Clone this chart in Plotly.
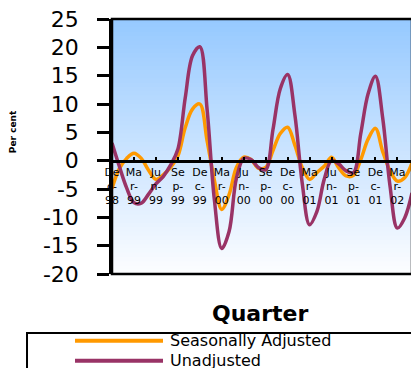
import plotly.graph_objects as go
import pandas as pd

# ---- data ----
months = list(pd.date_range("1998-12-01", periods=42, freq="MS").strftime("%b-%y"))
quarter_labels = ["Dec-98", "Mar-99", "Jun-99", "Sep-99", "Dec-99", "Mar-00", "Jun-00",
                  "Sep-00", "Dec-00", "Mar-01", "Jun-01", "Sep-01", "Dec-01", "Mar-02"]
seasonally_adjusted = [-4.9, -1.4, 0.4, 1.3, 0.4, -1.7, -3.3, -2.5, -1.2, 0.8,
                       5.8, 9.1, 10.0, 3.5, -3.5, -8.6, -6.0, -1.2, 0.6, 0.2,
                       -1.3, -1.2, 1.8, 4.8, 5.9, 2.7, -1.2, -3.3, -2.1, -1.0,
                       0.6, -1.3, -2.7, -2.6, 0.2, 3.8, 5.7, 1.6, -1.8, -3.6,
                       -3.0, -0.4]
unadjusted = [3.1, -1.0, -4.8, -7.4, -7.5, -5.9, -4.1, -2.8, -0.8, 2.0,
              11.0, 18.5, 20.1, 9.0, -7.0, -15.5, -12.5, -3.1, 0.4, 0.2,
              -1.2, -1.6, 5.5, 12.7, 15.2, 8.0, -4.0, -11.3, -9.0, -3.3,
              0.0, -0.6, -1.8, -2.1, 4.8, 11.8, 14.9, 7.5, -4.5, -11.9,
              -10.1, -5.7]
y_tick_values = [-20, -15, -10, -5, 0, 5, 10, 15, 20, 25]
y_tick_text = ["-20", "-15", "-10", "-5", "0", "5", "10", "15", "20", "25"]

ORANGE = "#FF9900"
PLUM = "#993366"
FONT = "DejaVu Sans"

def wrap(lbl):
    return lbl[:2] + "<br>" + lbl[2:4] + "<br>" + lbl[4:]

fig = go.Figure()
fig.add_trace(go.Scatter(x=months, y=seasonally_adjusted, mode="lines",
                         name="Seasonally Adjusted",
                         line=dict(color=ORANGE, width=3.5, shape="spline", smoothing=1.0)))
fig.add_trace(go.Scatter(x=months, y=unadjusted, mode="lines", name="Unadjusted",
                         line=dict(color=PLUM, width=3.5, shape="spline", smoothing=1.0)))

shapes = []
# gradient background of plot area
n = 60
top = (150, 201, 255)
bot = (252, 253, 255)
for i in range(n):
    f = i / (n - 1)
    c = tuple(round(top[k] + (bot[k] - top[k]) * f) for k in range(3))
    shapes.append(dict(type="rect", xref="paper", yref="paper", x0=0, x1=1,
                       y0=max(0, 1 - (i + 1) / n - 0.006), y1=1 - i / n, layer="below",
                       fillcolor="rgb(%d,%d,%d)" % c, line=dict(width=0)))
# plot frame
shapes.append(dict(type="rect", xref="paper", yref="paper", x0=0, x1=1, y0=0, y1=1,
                   line=dict(color="black", width=2.5), layer="above"))
# legend box
shapes.append(dict(type="rect", xref="paper", yref="paper", x0=-0.2833, x1=1.08,
                   y0=-0.45, y1=-0.2314, line=dict(color="black", width=2)))
shapes.append(dict(type="line", xref="paper", yref="paper", x0=-0.1233, x1=0.17,
                   y0=-0.2616, y1=-0.2616, line=dict(color=ORANGE, width=4)))
shapes.append(dict(type="line", xref="paper", yref="paper", x0=-0.1233, x1=0.17,
                   y0=-0.34, y1=-0.34, line=dict(color=PLUM, width=4)))

annotations = [
    dict(text="<b>Quarter</b>", xref="paper", yref="paper", x=0.4933, y=-0.153,
         showarrow=False, font=dict(family=FONT, size=22, color="black"),
         xanchor="center", yanchor="middle"),
    dict(text="<b>Per cent</b>", xref="paper", yref="paper", x=-0.3277, y=0.4667,
         showarrow=False, textangle=-90, font=dict(family=FONT, size=9, color="black"),
         xanchor="center", yanchor="bottom"),
    dict(text="Seasonally Adjusted", xref="paper", yref="paper", x=0.1867, y=-0.2627,
         showarrow=False, font=dict(family=FONT, size=16, color="black"),
         xanchor="left", yanchor="middle"),
    dict(text="Unadjusted", xref="paper", yref="paper", x=0.1867, y=-0.3385,
         showarrow=False, font=dict(family=FONT, size=16, color="black"),
         xanchor="left", yanchor="middle"),
]

fig.update_layout(
    width=411, height=360,
    margin=dict(l=104, r=7, t=11, b=94, autoexpand=False),
    paper_bgcolor="white", plot_bgcolor="rgba(0,0,0,0)",
    showlegend=False,
    shapes=shapes, annotations=annotations,
    xaxis=dict(type="category", range=[0, 41], anchor="free", position=20 / 45,
               showline=True, linecolor="black", linewidth=2.5,
               ticks="inside", ticklen=3, tickwidth=2, tickcolor="black",
               tickvals=[m for m in months if m in quarter_labels],
               ticktext=[wrap(q) for q in quarter_labels],
               tickangle=0, showgrid=False, zeroline=False,
               ticklabeloverflow="allow",
               tickfont=dict(family=FONT, size=11, color="black")),
    yaxis=dict(range=[-20, 25], tickvals=y_tick_values, ticktext=y_tick_text,
               showline=True, linecolor="black", linewidth=2.5,
               ticks="outside", ticklen=12, tickwidth=2.5, tickcolor="black",
               ticklabelstandoff=14, showgrid=False, zeroline=False,
               ticklabeloverflow="allow",
               tickfont=dict(family=FONT, size=22, color="black")),
)

fig.write_html("out.html")
